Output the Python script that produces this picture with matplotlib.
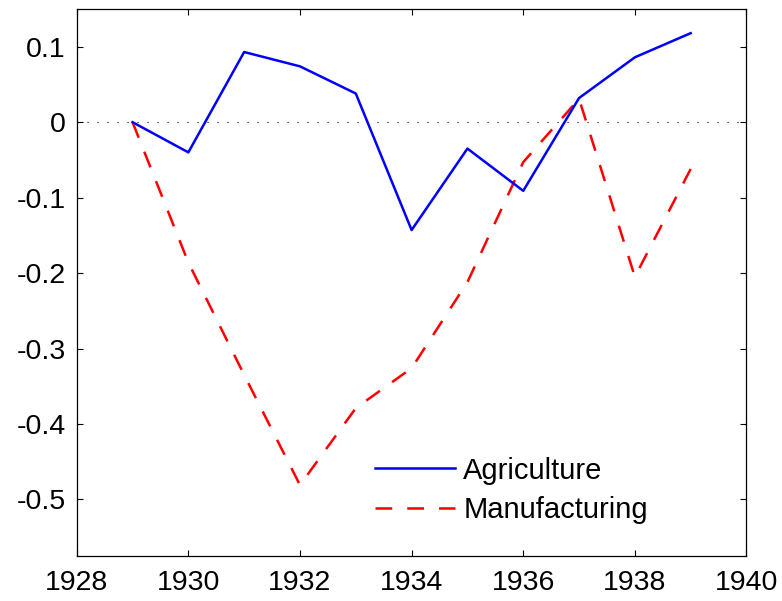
import matplotlib
matplotlib.use("Agg")
import matplotlib.pyplot as plt

plt.rcParams["font.family"] = ["Liberation Sans", "DejaVu Sans"]
plt.rcParams["axes.unicode_minus"] = False

years = [1929, 1930, 1931, 1932, 1933, 1934, 1935, 1936, 1937, 1938, 1939]
agriculture = [0.0, -0.040, 0.093, 0.074, 0.038, -0.143, -0.035, -0.091, 0.032, 0.086, 0.118]
manufacturing = [0.0, -0.186, -0.335, -0.481, -0.379, -0.326, -0.212, -0.053, 0.031, -0.205, -0.062]

x_ticks = [1928, 1930, 1932, 1934, 1936, 1938, 1940]
y_ticks = [0.1, 0, -0.1, -0.2, -0.3, -0.4, -0.5]
y_tick_labels = ["0.1", "0", "-0.1", "-0.2", "-0.3", "-0.4", "-0.5"]

fig = plt.figure(figsize=(7.82, 6.01), dpi=100)
ax = fig.add_axes([0.0981, 0.0749, 0.8565, 0.9101])

# zero reference line
ax.axhline(0, color="k", linestyle=(0, (1, 8)), linewidth=0.8, zorder=1)

ax.plot(years, agriculture, color="#0000ff", linewidth=1.8, label="Agriculture", zorder=3)
ax.plot(years, manufacturing, color="#ff0000", linewidth=1.8,
        linestyle=(0, (6.7, 6.0)), label="Manufacturing", zorder=2)

ax.set_xlim(1928, 1940)
ax.set_ylim(-0.575, 0.15)
ax.set_xticks(x_ticks)
ax.set_yticks(y_ticks)
ax.set_yticklabels(y_tick_labels)

ax.tick_params(direction="in", length=4.5, width=0.8, labelsize=20.5,
               top=True, right=True)
ax.tick_params(axis="x", pad=10)
ax.tick_params(axis="y", pad=8)
for spine in ax.spines.values():
    spine.set_linewidth(0.9)

# legend without box, lower middle
ax.legend(loc="center left", bbox_to_anchor=(0.4795, 0.1839),
          bbox_transform=fig.transFigure, frameon=False, fontsize=21,
          borderpad=0, borderaxespad=0, handlelength=2.75,
          handletextpad=0.28, labelspacing=0.4)

plt.savefig("out.png", dpi=100)
